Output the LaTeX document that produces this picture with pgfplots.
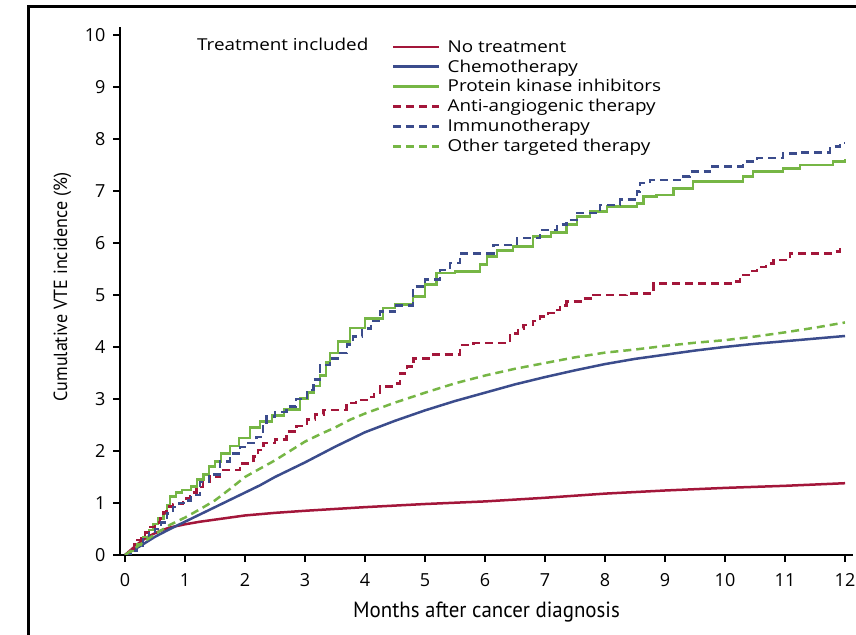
\documentclass[border=0pt]{standalone}
\usepackage{fontspec}
\setmainfont{Open Sans}
\newfontfamily\legendfont[FakeStretch=1.15]{Open Sans}
\newfontfamily\labelfont[FakeStretch=0.95]{PT Sans}
\usepackage{pgfplots}
\pgfplotsset{compat=1.18}

\definecolor{cred}{RGB}{163,22,58}
\definecolor{cblue}{RGB}{59,76,140}
\definecolor{cgreen}{RGB}{118,182,69}

\begin{document}
\begin{tikzpicture}[x=1pt,y=1pt]
\begin{axis}[
  at={(120pt,79pt)}, anchor=south west,
  scale only axis, width=733pt, height=528pt,
  xmin=-0.0833, xmax=12.133, ymin=0, ymax=10.15,
  axis x line*=bottom, axis y line*=left,
  axis line style={line width=2.5pt,-},
  xtick={0,...,12}, ytick={0,...,10},
  tick align=outside, major tick length=7pt,
  tick style={line width=2pt,black},
  /pgf/number format/assume math mode=true,
  tick label style={font=\fontsize{18}{20}\selectfont},
  xticklabel style={yshift=-8pt},
  yticklabel style={xshift=-4pt},
  xlabel={Months after cancer diagnosis},
  ylabel={Cumulative VTE incidence (\%)},
  every axis x label/.style={at={(axis description cs:0.5,-0.119)},anchor=base,
    font=\labelfont\fontsize{22}{25}\selectfont},
  every axis y label/.style={at={(axis description cs:-0.0723,0.5076)},rotate=90,anchor=base,
    font=\labelfont\fontsize{19}{22}\selectfont},
  legend style={at={(0.371,0.977)}, anchor=north west, draw=none, fill=none,
    font=\legendfont\fontsize{16.4}{18}\selectfont, inner sep=0pt, row sep=4pt,
    nodes={inner sep=1pt},
    /tikz/every odd column/.append style={column sep=6pt}},
  legend cell align=left,
  legend image code/.code={\draw[#1] plot coordinates {(0pt,0pt) (46pt,0pt)};},
  every axis plot/.append style={line width=2.5pt},
]
% No treatment
\addplot[cred] coordinates {
 (0,0) (0.05,0.05) (0.1,0.1) (0.2,0.2) (0.3,0.29) (0.4,0.36) (0.5,0.42)
 (0.6,0.47) (0.75,0.53) (1,0.59) (1.25,0.64) (1.5,0.68) (2,0.76) (2.5,0.81)
 (3,0.85) (4,0.92) (5,0.98) (6,1.03) (7,1.1) (8,1.18) (9,1.24) (10,1.29)
 (11,1.33) (12,1.38)};
\addlegendentry{No treatment}
% Chemotherapy
\addplot[cblue] coordinates {
 (0,0) (0.25,0.17) (0.5,0.35) (0.75,0.5) (1,0.64) (1.25,0.78) (1.5,0.92)
 (1.75,1.06) (2,1.2) (2.25,1.34) (2.5,1.5) (2.75,1.64) (3,1.78) (3.5,2.08)
 (4,2.36) (4.5,2.58) (5,2.78) (5.5,2.96) (6,3.12) (6.5,3.28) (7,3.42)
 (7.5,3.55) (8,3.67) (8.5,3.77) (9,3.85) (9.5,3.93) (10,4.0) (10.5,4.06)
 (11,4.11) (11.5,4.16) (12,4.21)};
\addlegendentry{Chemotherapy}
% Protein kinase inhibitors
\addplot[cgreen,const plot] coordinates {
 (0,0) (0.1,0.08) (0.2,0.2) (0.3,0.35) (0.4,0.48) (0.47,0.6) (0.55,0.7)
 (0.64,0.8) (0.7,0.96) (0.75,1.12) (0.85,1.2) (0.95,1.25) (1.1,1.32)
 (1.2,1.45) (1.31,1.55) (1.4,1.7) (1.5,1.8) (1.6,1.95) (1.75,2.1) (1.9,2.25)
 (2.08,2.45) (2.25,2.57) (2.45,2.68) (2.65,2.8) (2.92,3.01) (3.05,3.12)
 (3.14,3.25) (3.25,3.45) (3.35,3.7) (3.42,3.88) (3.55,4.1) (3.75,4.36)
 (4.0,4.55) (4.3,4.75) (4.5,4.82) (4.8,4.97) (5.0,5.2) (5.19,5.42)
 (5.5,5.45) (5.92,5.58) (6.03,5.74) (6.2,5.85) (6.47,5.93) (6.8,6.12)
 (7.1,6.2) (7.36,6.35) (7.53,6.51) (7.75,6.6) (8.03,6.7) (8.53,6.76)
 (8.64,6.89) (8.86,6.92) (9.14,7.05) (9.47,7.18) (10.3,7.28) (10.47,7.37)
 (10.97,7.43) (11.25,7.5) (11.8,7.56) (12.0,7.61)};
\addlegendentry{Protein kinase inhibitors}
% Anti-angiogenic therapy
\addplot[cred,const plot,dash pattern=on 8pt off 5pt] coordinates {
 (0,0) (0.05,0.05) (0.1,0.12) (0.15,0.2) (0.2,0.29) (0.27,0.36) (0.33,0.43)
 (0.42,0.54) (0.5,0.62) (0.58,0.7) (0.64,0.82) (0.69,0.93) (0.8,0.98)
 (0.97,1.09) (1.08,1.2) (1.19,1.31) (1.3,1.4) (1.42,1.51) (1.58,1.63)
 (1.92,1.76) (2.14,1.89) (2.22,2.02) (2.31,2.15) (2.5,2.22) (2.69,2.37)
 (2.86,2.48) (3.03,2.6) (3.17,2.7) (3.31,2.79) (3.69,2.92) (3.85,2.98)
 (4.03,3.04) (4.15,3.12) (4.25,3.24) (4.53,3.3) (4.58,3.49) (4.7,3.62)
 (4.81,3.78) (5.14,3.85) (5.58,4.04) (5.81,4.08) (6.42,4.26) (6.55,4.35)
 (6.64,4.42) (6.8,4.5) (6.92,4.58) (7.05,4.65) (7.14,4.71) (7.25,4.8)
 (7.36,4.87) (7.64,4.93) (7.81,5.0) (8.36,5.03) (8.81,5.22) (10.14,5.26)
 (10.25,5.38) (10.4,5.46) (10.53,5.54) (10.68,5.6) (10.81,5.67)
 (11.08,5.8) (11.8,5.83) (11.92,5.9) (12.0,5.9)};
\addlegendentry{Anti-angiogenic therapy}
% Immunotherapy
\addplot[cblue,const plot,dash pattern=on 8pt off 5pt] coordinates {
 (0,0) (0.1,0.08) (0.2,0.18) (0.3,0.3) (0.4,0.42) (0.5,0.5) (0.6,0.62)
 (0.7,0.8) (0.8,0.92) (0.9,1.0) (1.0,1.05) (1.1,1.15) (1.25,1.4)
 (1.4,1.55) (1.58,1.8) (1.75,1.95) (1.92,2.08) (2.05,2.15) (2.19,2.27)
 (2.3,2.5) (2.36,2.66) (2.5,2.75) (2.69,2.85) (2.85,3.0) (3.03,3.17)
 (3.14,3.37) (3.25,3.65) (3.42,3.78) (3.58,3.88) (3.7,4.05) (3.8,4.2)
 (3.95,4.35) (4.1,4.5) (4.25,4.68) (4.5,4.8) (4.8,5.16) (5.0,5.3)
 (5.25,5.48) (5.42,5.61) (5.58,5.8) (6.14,5.96) (6.53,6.09) (6.92,6.25)
 (7.2,6.35) (7.36,6.44) (7.53,6.57) (7.92,6.73) (8.25,6.83) (8.53,6.99)
 (8.58,7.15) (8.75,7.21) (9.25,7.28) (9.42,7.37) (9.75,7.47) (10.3,7.56)
 (10.53,7.63) (10.97,7.72) (11.25,7.74) (11.75,7.85) (11.92,7.92)
 (12.0,7.92)};
\addlegendentry{Immunotherapy}
% Other targeted therapy
\addplot[cgreen,dash pattern=on 8pt off 5pt] coordinates {
 (0,0) (0.25,0.2) (0.5,0.4) (0.75,0.58) (1,0.72) (1.25,0.88) (1.5,1.05)
 (1.75,1.27) (2,1.5) (2.25,1.66) (2.5,1.82) (2.75,2.0) (3,2.18) (3.25,2.32)
 (3.5,2.45) (3.75,2.6) (4,2.72) (4.5,2.93) (5,3.12) (5.5,3.3) (6,3.45)
 (6.5,3.58) (7,3.69) (7.5,3.8) (8,3.89) (8.5,3.95) (9,4.02) (9.5,4.08)
 (10,4.13) (10.5,4.2) (11,4.28) (11.5,4.37) (12,4.47)};
\addlegendentry{Other targeted therapy}
\end{axis}
\node[anchor=base west,inner sep=0pt,font=\legendfont\fontsize{16.4}{18}\selectfont] at (197pt,583pt) {Treatment included};
% panel frame
\draw[line width=2.7pt,line join=miter] (28.5pt,-20pt) -- (28.5pt,627.5pt) -- (900pt,627.5pt);
\pgfresetboundingbox
\path[use as bounding box] (0pt,0pt) rectangle (856pt,634pt);
\end{tikzpicture}
\end{document}
